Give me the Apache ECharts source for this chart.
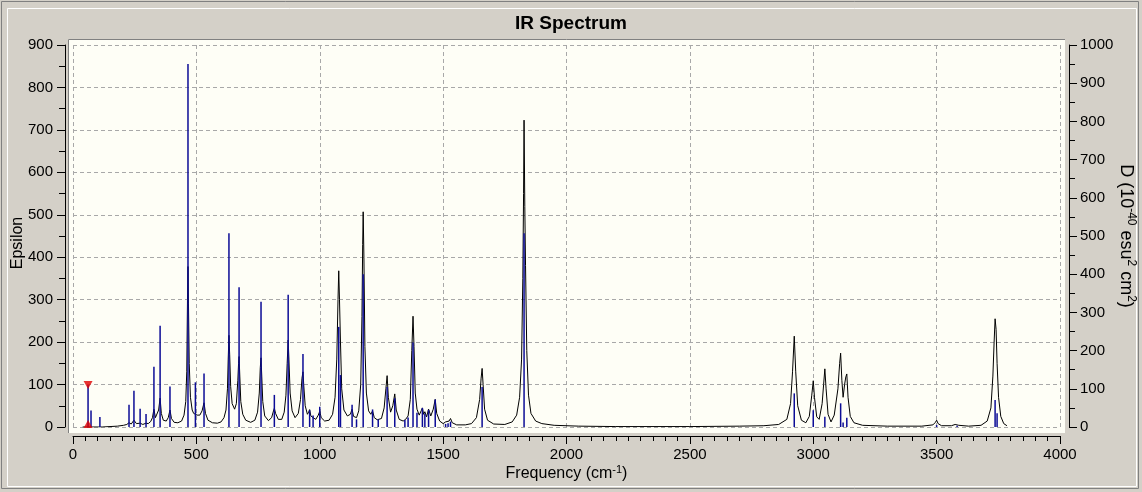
<!DOCTYPE html>
<html>
<head>
<meta charset="utf-8">
<script src="https://cdn.jsdelivr.net/npm/echarts@6/dist/echarts.min.js"></script>
<style>
html, body { margin: 0; padding: 0; background: #d4d0c8; }
#chart { width: 1142px; height: 492px; }
</style>
</head>
<body>
<div id="chart"></div>
<script>
// broadened spectrum: [frequency cm-1, epsilon]
var curvePoints = [
  [39,0],[118,0],[122,1],[180,2],[205,4],[218,6],[227,10],[236,7],[247,16],[257,8],[265,7],[272,9],
  [283,6],[290,7],[296,9],[305,8],[315,13],[322,22],[328,42],[334,22],[341,25],[347,40],[353,68],
  [358,32],[366,16],[378,14],[386,22],[393,40],[399,20],[410,11],[425,10],[440,14],[450,28],[457,60],
  [461,130],[464,300],[466,378],[468,290],[471,150],[476,70],[483,40],[489,32],[496,36],[503,28],
  [514,28],[523,38],[531,57],[537,32],[547,16],[565,10],[585,9],[600,12],[612,22],[620,40],[626,90],
  [629,160],[632,216],[635,170],[639,95],[645,55],[655,42],[662,55],[668,110],[671,150],[673,166],
  [676,120],[680,60],[688,30],[700,16],[720,11],[737,16],[748,35],[755,80],[759,140],[762,163],
  [765,120],[769,60],[777,26],[792,15],[805,22],[811,35],[816,44],[821,32],[832,18],[846,18],[856,35],
  [863,75],[868,150],[872,205],[875,160],[880,80],[888,38],[900,22],[913,32],[922,65],[928,115],
  [932,130],[935,100],[941,50],[950,30],[955,35],[959,41],[964,26],[973,22],[984,18],[994,28],
  [1000,37],[1006,22],[1020,14],[1038,16],[1052,30],[1062,70],[1069,160],[1074,300],[1077,368],
  [1080,300],[1084,200],[1089,90],[1098,40],[1112,26],[1124,30],[1131,42],[1137,25],[1149,22],
  [1158,38],[1166,100],[1171,260],[1174,430],[1176,507],[1179,400],[1183,190],[1189,80],[1198,38],
  [1207,30],[1214,38],[1221,22],[1233,17],[1238,19],[1250,20],[1261,45],[1268,90],[1273,121],
  [1278,70],[1287,35],[1296,50],[1304,78],[1310,40],[1322,18],[1338,14],[1348,18],[1358,26],
  [1367,65],[1373,180],[1378,261],[1382,190],[1387,80],[1394,42],[1403,28],[1411,38],[1416,45],
  [1421,30],[1426,36],[1433,24],[1441,42],[1450,26],[1460,42],[1468,65],[1474,32],[1486,14],
  [1500,8],[1510,12],[1516,8],[1524,14],[1530,20],[1537,10],[1555,5],[1590,5],[1615,8],[1635,22],
  [1648,65],[1654,115],[1658,138],[1662,100],[1668,42],[1680,16],[1705,7],[1750,6],[1780,12],
  [1798,28],[1810,70],[1818,160],[1823,350],[1826,550],[1828,723],[1831,520],[1834,380],[1839,180],
  [1846,75],[1856,32],[1875,14],[1900,8],[1950,4],[2050,2],[2200,1],[2500,1],[2700,2],[2800,3],
  [2860,6],[2893,18],[2908,55],[2916,130],[2923,214],[2929,130],[2937,50],[2952,16],[2970,10],
  [2984,25],[2994,75],[3000,109],[3005,70],[3014,24],[3024,18],[3036,55],[3042,100],[3047,137],
  [3052,90],[3060,30],[3072,12],[3085,28],[3100,90],[3107,150],[3111,174],[3116,110],[3121,70],
  [3127,100],[3132,118],[3136,125],[3141,70],[3150,25],[3165,10],[3200,4],[3300,2],[3440,2],
  [3485,5],[3495,11],[3500,16],[3506,8],[3520,3],[3560,3],[3575,6],[3583,9],[3590,4],[3630,2],
  [3680,4],[3705,14],[3720,45],[3728,120],[3733,200],[3737,255],[3741,230],[3745,150],[3751,70],
  [3760,25],[3772,8],[3785,3]
];

// stick frequencies and intensities (right axis, D)
var stickFreq = [61, 73, 109, 227, 247, 272, 296, 328, 353, 393, 466, 496, 531, 632, 673, 762, 816, 872,
  932, 959, 973, 1000, 1077, 1084, 1131, 1149, 1176, 1214, 1237, 1273, 1304, 1345, 1358, 1378, 1394,
  1416, 1426, 1441, 1468, 1510, 1520, 1530, 1658, 1828, 2923, 3000, 3047, 3111, 3121, 3136, 3500,
  3583, 3737, 3745];
var stickD = [110, 43, 26, 58, 95, 48, 34, 158, 265, 106, 950, 117, 140, 507, 366, 328, 84, 346,
  191, 44, 30, 53, 262, 136, 58, 20, 400, 46, 20, 105, 75, 18, 25, 221, 37,
  50, 35, 45, 72, 8, 10, 14, 105, 507, 88, 44, 27, 62, 12, 24, 5,
  3, 71, 36];

// selected mode marker
var markerFreq = 61;
var markerD = 110;

var sticks = stickFreq.map(function (f, i) { return [f, stickD[i]]; });

var labelFont = '"Liberation Sans Narrow", "Liberation Sans", Arial, sans-serif';
var nameFont = '"Liberation Sans", Arial, sans-serif';
var plain = function (v) { return String(v); };

var chart = echarts.init(document.getElementById('chart'), null, { renderer: 'canvas' });

var option = {
  animation: false,
  backgroundColor: 'transparent',
  title: {
    text: 'IR Spectrum',
    left: 'center',
    top: 9,
    textStyle: { fontSize: 19, fontWeight: 'bold', color: '#000', fontFamily: nameFont }
  },
  graphic: [
    // etched frame
    { type: 'rect', z: -20, silent: true, shape: { x: 1.5, y: 1.5, width: 1137, height: 487 },
      style: { fill: null, stroke: '#808080', lineWidth: 1 } },
    { type: 'rect', z: -20, silent: true, shape: { x: 7.5, y: 8.5, width: 1129, height: 478 },
      style: { fill: null, stroke: '#ffffff', lineWidth: 1 } },
    // plot box
    { type: 'rect', z: -10, silent: true, shape: { x: 68, y: 39, width: 997, height: 394 },
      style: { fill: '#fefef6', stroke: null } },
    { type: 'polyline', z: -9, silent: true, shape: { points: [[68.5, 433], [68.5, 39.5], [1065, 39.5]] },
      style: { fill: null, stroke: '#808080', lineWidth: 1 } }
  ],
  grid: { left: 73, right: 82, top: 45, bottom: 65, containLabel: false, outerBoundsMode: 'none' },
  xAxis: {
    type: 'value', min: 0, max: 4000, interval: 500, offset: 9,
    name: '{a|Frequency (cm}{s|-1}{a|)}',
    nameLocation: 'middle', nameGap: 28, nameMoveOverlap: false,
    nameTextStyle: {
      rich: {
        a: { fontSize: 16, color: '#000', fontFamily: nameFont },
        s: { fontSize: 11, color: '#000', fontFamily: nameFont, padding: [0, 0, 9, 0] }
      }
    },
    axisLine: { show: true, onZero: false, lineStyle: { color: '#000', width: 1 } },
    axisTick: { show: true, length: 8, lineStyle: { color: '#000' } },
    minorTick: { show: true, splitNumber: 10, length: 5, lineStyle: { color: '#000' } },
    axisLabel: { margin: 11, fontSize: 15, color: '#000', fontFamily: labelFont, formatter: plain },
    splitLine: { show: true, lineStyle: { color: '#a8a8a8', type: [4, 3], width: 1 } }
  },
  yAxis: [
    {
      type: 'value', position: 'left', min: 0, max: 900, interval: 100, offset: 8,
      name: 'Epsilon', nameLocation: 'middle', nameGap: 39, nameMoveOverlap: false,
      nameTextStyle: { fontSize: 16, color: '#000', fontFamily: nameFont, padding: [0, 14, 0, 0] },
      axisLine: { show: true, onZero: false, lineStyle: { color: '#000', width: 1 } },
      axisTick: { show: true, length: 8, lineStyle: { color: '#000' } },
      minorTick: { show: true, splitNumber: 2, length: 6, lineStyle: { color: '#000' } },
      axisLabel: { margin: 12, fontSize: 15, color: '#000', fontFamily: labelFont, formatter: plain },
      splitLine: { show: true, lineStyle: { color: '#a8a8a8', type: [4, 3], width: 1 } }
    },
    {
      type: 'value', position: 'right', min: 0, max: 1000, interval: 100, offset: 9,
      name: '{a|D (10}{s|-40}{a| esu}{s|2}{a| cm}{s|2}{a|)}',
      nameLocation: 'middle', nameGap: 46, nameRotate: -90, nameMoveOverlap: false,
      nameTextStyle: {
        rich: {
          a: { fontSize: 18, color: '#000', fontFamily: nameFont },
          s: { fontSize: 12, color: '#000', fontFamily: nameFont, padding: [0, 0, 10, 0] }
        }
      },
      axisLine: { show: true, onZero: false, lineStyle: { color: '#000', width: 1 } },
      axisTick: { show: true, length: 8, lineStyle: { color: '#000' } },
      minorTick: { show: true, splitNumber: 2, length: 6, lineStyle: { color: '#000' } },
      axisLabel: { margin: 11, fontSize: 15, color: '#000', fontFamily: labelFont, formatter: plain },
      splitLine: { show: false }
    }
  ],
  series: [
    {
      name: 'Spectrum', type: 'line', xAxisIndex: 0, yAxisIndex: 0,
      data: curvePoints, showSymbol: false, symbol: 'none', smooth: false,
      lineStyle: { color: '#000', width: 1 }, z: 2
    },
    {
      name: 'Sticks', type: 'custom', xAxisIndex: 0, yAxisIndex: 1,
      data: sticks, encode: { x: 0, y: 1 }, z: 3,
      renderItem: function (params, api) {
        var top = api.coord([api.value(0), api.value(1)]);
        var base = api.coord([api.value(0), 0]);
        return {
          type: 'line',
          shape: { x1: top[0], y1: top[1], x2: base[0], y2: base[1] },
          style: { stroke: '#0c0c96', lineWidth: 1.5 }
        };
      }
    },
    {
      name: 'Marker', type: 'scatter', xAxisIndex: 0, yAxisIndex: 1, z: 4,
      symbol: 'triangle', symbolSize: [9, 8], itemStyle: { color: '#e00000' },
      data: [
        { value: [markerFreq, markerD], symbolRotate: 180 },
        { value: [markerFreq, 0], symbolOffset: [0, -3] }
      ]
    }
  ]
};

chart.setOption(option);
</script>
</body>
</html>
